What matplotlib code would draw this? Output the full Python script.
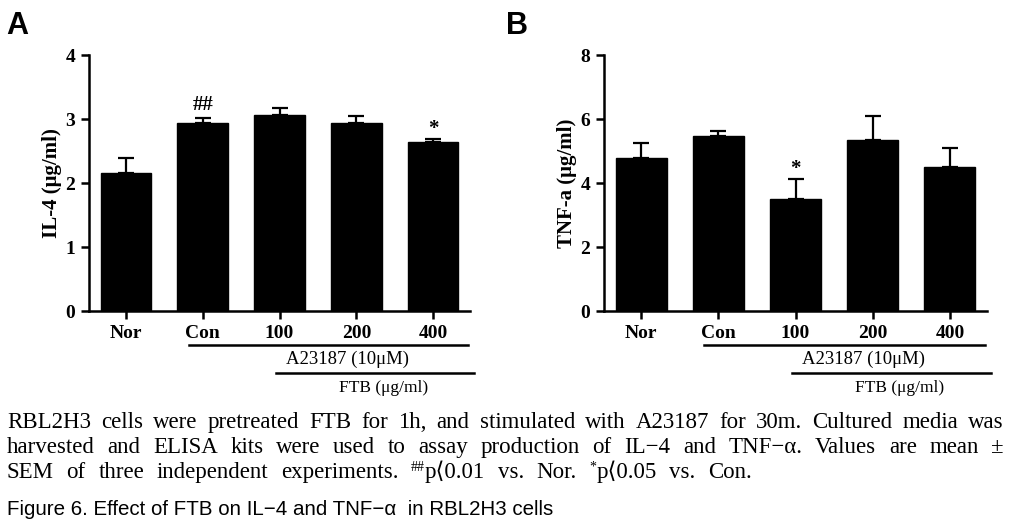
import matplotlib.pyplot as plt
import numpy as np

W, H = 1011, 529

# data
groups = ["Nor", "Con", "100", "200", "400"]
il4_mean = [2.15, 2.94, 3.06, 2.93, 2.64]
il4_sem = [0.24, 0.07, 0.11, 0.11, 0.05]
il4_marks = ["", "##", "", "", "*"]
tnf_mean = [4.78, 5.47, 3.50, 5.33, 4.51]
tnf_sem = [0.46, 0.17, 0.61, 0.76, 0.59]
tnf_marks = ["", "", "*", "", ""]

serif = ["Liberation Serif", "DejaVu Serif"]
cap_fonts = ["Liberation Serif", "DejaVu Sans"]

fig = plt.figure(figsize=(W / 100, H / 100), dpi=100)


def px(x, y):
    """pixel position (from top-left) -> figure fraction"""
    return x / W, 1 - y / H


def panel(rect, means, sems, marks, ylabel, ymax, step):
    ax = fig.add_axes(rect)
    x = np.arange(len(groups))
    ax.bar(x, means, width=0.66, color="black", edgecolor="black", zorder=2)
    ax.errorbar(x, means, yerr=[np.zeros(len(sems)), sems], fmt="none",
                ecolor="black", elinewidth=1.6, capsize=5.5, capthick=1.6,
                zorder=1)
    for xi, m, s, mk in zip(x, means, sems, marks):
        if mk:
            off = 3 if mk == "##" else 0
            ax.annotate(mk, (xi, m + s), xytext=(0, off), textcoords="offset pixels",
                        ha="center", va="bottom", fontsize=15, fontweight="bold",
                        family=serif)
    ax.set_xlim(-0.48, 4.48)
    ax.set_ylim(0, ymax)
    ax.set_yticks(np.arange(0, ymax + 0.01, step))
    ax.set_xticks(x)
    ax.set_xticklabels(groups)
    for sp in ("top", "right"):
        ax.spines[sp].set_visible(False)
    for sp in ("left", "bottom"):
        ax.spines[sp].set_linewidth(1.8)
    ax.tick_params(direction="out", length=6, width=1.8, pad=4)
    for lab in ax.get_xticklabels() + ax.get_yticklabels():
        lab.set_fontfamily(serif)
        lab.set_fontweight("bold")
        lab.set_fontsize(14)
    ax.set_ylabel(ylabel, fontsize=15, fontweight="bold", family=serif, labelpad=2)

    # treatment brackets under the axis
    tr = ax.get_xaxis_transform()
    ax.plot([0.82, 4.45], [-0.133, -0.133], color="black", lw=1.8,
            transform=tr, clip_on=False)
    ax.text(2.88, -0.19, "A23187 (10\u03bcM)", transform=tr, ha="center",
            va="center", fontsize=13.5, family=serif)
    ax.plot([1.96, 4.53], [-0.242, -0.242], color="black", lw=1.8,
            transform=tr, clip_on=False)
    ax.text(3.35, -0.30, "FTB (\u03bcg/ml)", transform=tr, ha="center",
            va="center", fontsize=12.5, family=serif)
    return ax


axA = panel([89 / W, 218 / H, 381 / W, 256 / H], il4_mean, il4_sem, il4_marks,
            "IL-4 (\u03bcg/ml)", 4, 1)
axB = panel([604 / W, 218 / H, 383 / W, 256 / H], tnf_mean, tnf_sem, tnf_marks,
            "TNF-a (\u03bcg/ml)", 8, 2)

fig.text(*px(6, 34), "A", fontsize=22, fontweight="bold", family="Liberation Sans")
fig.text(*px(506, 34), "B", fontsize=22, fontweight="bold", family="Liberation Sans")

# caption, laid out word by word so the first two lines are justified
cap_size = 16.5
sup = (10, 7)
lines = [
    ("RBL2H3 cells were pretreated FTB for 1h, and stimulated with A23187 "
     "for 30m. Cultured media was", 428, True),
    ("harvested and ELISA kits were used to assay production of IL\u22124 and "
     "TNF\u2212\u03b1. Values are mean \u00b1", 453, True),
    ("SEM of three independent experiments. ^##p\u27e80.01 vs. Nor. "
     "^*p\u27e80.05 vs. Con.", 478, False),
]
renderer = fig.canvas.get_renderer()
x_left, x_right = 7, 1004
gap = cap_size * 100 / 72 * 0.3
for text, ybase, justify in lines:
    words = []
    for w in text.split(" "):
        pieces = []
        if w.startswith("^"):
            mark = w[1:].rstrip("p\u27e80123456789.")
            rest = w[1 + len(mark):]
            pieces.append((mark, sup[0], sup[1]))
            pieces.append((rest, cap_size, 0))
        else:
            pieces.append((w, cap_size, 0))
        objs = []
        for s, fs, rise in pieces:
            t = fig.text(0, 0, s, fontsize=fs, family=cap_fonts, va="baseline")
            objs.append((t, rise, t.get_window_extent(renderer).width))
        words.append(objs)
    widths = [sum(o[2] for o in wd) for wd in words]
    if justify:
        gap = (x_right - x_left - sum(widths)) / (len(words) - 1)
    # last line keeps the spacing of the line above
    xc = x_left
    for wd, wdt in zip(words, widths):
        xp = xc
        for t, rise, tw in wd:
            t.set_position(px(xp, ybase - rise))
            xp += tw
        xc += wdt + gap

fig.text(*px(7, 515), "Figure 6. Effect of FTB on IL\u22124 and TNF\u2212\u03b1  in RBL2H3 cells",
         fontsize=14.8, family=["Liberation Sans", "DejaVu Sans"], va="baseline")

fig.savefig("out.png", dpi=100)
